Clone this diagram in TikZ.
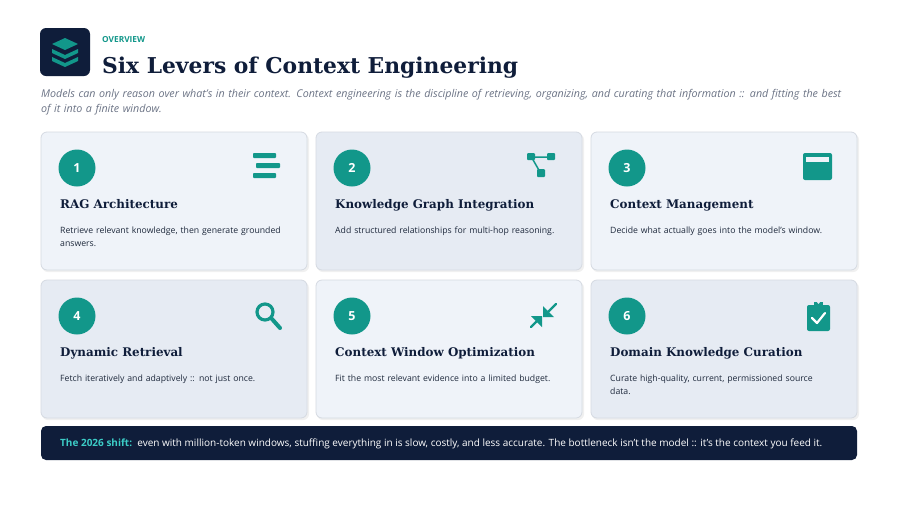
\documentclass[tikz,border=0pt]{standalone}
\usepackage{fontspec}
\setmainfont{Open Sans}
\newfontfamily\ttl{DejaVu Serif}
\definecolor{navy}{HTML}{0F1D3A}
\definecolor{teal}{HTML}{12978A}
\definecolor{cardA}{HTML}{EFF3F9}
\definecolor{cardB}{HTML}{E6EBF3}
\definecolor{cborder}{HTML}{D5DAE2}
\definecolor{sub}{HTML}{6B7385}
\definecolor{body}{HTML}{1F2A3D}
\begin{document}
\begin{tikzpicture}[x=1pt,y=-1pt,
 card/.style={draw=cborder,line width=0.8pt,rounded corners=6pt},
 num/.style={circle,fill=teal,minimum size=37pt,inner sep=0pt,text=white,font=\bfseries\fontsize{12.5}{13}\selectfont},
 ctitle/.style={anchor=base west,inner sep=0pt,text=navy,font=\ttl\bfseries\fontsize{11.9}{13}\selectfont},
 cdesc/.style={anchor=north west,inner sep=0pt,text=body,align=left,text width=232pt,font=\fontsize{8.7}{13}\selectfont},
 ico/.style={fill=teal}]
\useasboundingbox (0,0) rectangle (900,507);
\fill[white] (0,0) rectangle (900,507);
% header
\fill[navy,rounded corners=6pt] (40,28) rectangle (90,76);
\begin{scope}[shift={(65,52)}]
\fill[teal] (0,-14) -- (13,-8) -- (0,-2) -- (-13,-8) -- cycle;
\fill[teal] (-13,-3) -- (0,3) -- (13,-3) -- (13,1) -- (0,7) -- (-13,1) -- cycle;
\fill[teal] (-13,5) -- (0,11) -- (13,5) -- (13,9) -- (0,15) -- (-13,9) -- cycle;
\end{scope}
\node[anchor=base west,inner sep=0pt,text=teal,font=\bfseries\fontsize{8.3}{9}\selectfont] (ov) at (102,42) {OVERVIEW};
\node[anchor=base west,inner sep=0pt,text=navy,font=\ttl\bfseries\fontsize{21.8}{24}\selectfont] (tt) at (102,73) {Six Levers of Context Engineering};
\node[anchor=north west,inner sep=0pt,text=sub,align=left,text width=830pt,font=\itshape\fontsize{10.7}{15}\selectfont] (st) at (41,89) {Models can only reason over what's in their context. Context engineering is the discipline of retrieving, organizing, and curating that information :: and fitting the best\\of it into a finite window.};
% cards
\foreach \i/\x/\y/\c in {1/41/132/cardA,2/316/132/cardB,3/591/132/cardA,4/41/280/cardB,5/316/280/cardA,6/591/280/cardB}{
 \fill[black!6,rounded corners=6pt] (\x+1,\y+2) rectangle (\x+268,\y+140);
 \filldraw[card,fill=\c] (\x,\y) rectangle (\x+266,\y+138);
 \node[num] (n\i) at (\x+36,\y+36) {\i};
}
\node[ctitle] (t1) at (60,208) {RAG Architecture};
\node[ctitle] (t2) at (335,208) {Knowledge Graph Integration};
\node[ctitle] (t3) at (610,208) {Context Management};
\node[ctitle] (t4) at (60,356) {Dynamic Retrieval};
\node[ctitle] (t5) at (335,356) {Context Window Optimization};
\node[ctitle] (t6) at (610,356) {Domain Knowledge Curation};
\node[cdesc] (d1) at (60,227) {Retrieve relevant knowledge, then generate grounded\\answers.};
\node[cdesc] (d2) at (335,227) {Add structured relationships for multi-hop reasoning.};
\node[cdesc] (d3) at (610,227) {Decide what actually goes into the model's window.};
\node[cdesc] (d4) at (60,375) {Fetch iteratively and adaptively :: not just once.};
\node[cdesc] (d5) at (335,375) {Fit the most relevant evidence into a limited budget.};
\node[cdesc] (d6) at (610,375) {Curate high-quality, current, permissioned source\\data.};
% icons
\fill[ico,rounded corners=0.8pt] (253,153) rectangle (276,158) (256,163) rectangle (280,168) (253,173) rectangle (276,178);
\fill[ico,rounded corners=1pt] (527,153) rectangle (535,160) (547,153) rectangle (555,160) (537,169) rectangle (545,177);
\draw[teal,line width=1.5pt] (533,157) -- (549,157) (532,158) -- (540,172);
\fill[ico,rounded corners=2pt] (803,153) rectangle (832,180);
\fill[cardA] (806,157) rectangle (829,162);
\draw[teal,line width=3.2pt] (265,312) circle (8pt);
\draw[teal,line width=4pt,line cap=round] (272,319) -- (280,328);
\begin{scope}[teal,line width=2.2pt,line cap=round]
\draw (556,304) -- (545,315) (531,327) -- (540,318);
\end{scope}
\fill[teal] (543,306) -- (543,317) -- (554,317) -- cycle (531,316) -- (542,316) -- (542,327) -- cycle;
\fill[ico,rounded corners=2pt] (807,305) rectangle (830,331);
\fill[ico] (814,302) rectangle (823,307);
\fill[cardB] (818.5,302.5) circle (1.3pt);
\draw[white,line width=2.2pt,line cap=round,line join=round] (812,318) -- (817,323) -- (825,313);
% bottom
\fill[navy,rounded corners=5pt] (41,426) rectangle (857,460);
\node[anchor=base west,inner sep=0pt,font=\fontsize{10}{10}\selectfont,text=white] (bt) at (60,446) {\textcolor{teal!60!cyan!80!white}{\bfseries The 2026 shift:}\ \ even with million-token windows, stuffing everything in is slow, costly, and less accurate. The bottleneck isn't the model :: it's the context you feed it.};
\end{tikzpicture}
\end{document}
